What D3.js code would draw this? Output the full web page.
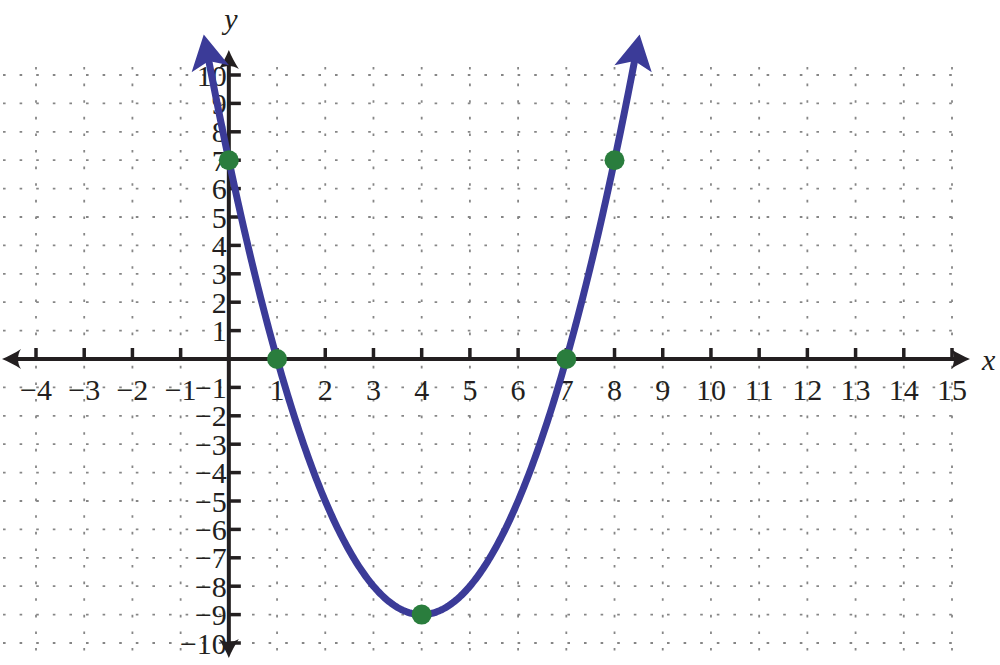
<!DOCTYPE html>
<html>
<head>
<meta charset="utf-8">
<script src="https://cdn.jsdelivr.net/npm/d3@7"></script>
<style>
  html, body { margin: 0; padding: 0; background: #fff; }
  svg { display: block; }
  text { font-family: "Liberation Serif", "DejaVu Serif", serif; fill: #231f20; }
</style>
</head>
<body>
<svg id="chart" width="1000" height="665"></svg>
<script>
// ---- data ----
const xTicks = [-4, -3, -2, -1, 1, 2, 3, 4, 5, 6, 7, 8, 9, 10, 11, 12, 13, 14, 15];
const yTicks = [-10, -9, -8, -7, -6, -5, -4, -3, -2, -1, 1, 2, 3, 4, 5, 6, 7, 8, 9, 10];
const gridX = [-4, -3, -2, -1, 0, 1, 2, 3, 4, 5, 6, 7, 8, 9, 10, 11, 12, 13, 14, 15];
const gridY = [-10, -9, -8, -7, -6, -5, -4, -3, -2, -1, 1, 2, 3, 4, 5, 6, 7, 8, 9, 10];
// parabola y = a x^2 + b x + c  (roots 1 and 7, vertex (4,-9))
const curveCoefficients = [1, -8, 7];
const curveDomain = [-0.52, 8.52];
const pointX = [0, 1, 4, 7, 8];
const pointY = [7, 0, -9, 0, 7];

// ---- layout ----
const svg = d3.select("#chart");
const x = d3.scaleLinear().domain([-4, 15]).range([36, 952]);
const y = d3.scaleLinear().domain([-10, 10]).range([643, 75]);
const fmt = v => (v < 0 ? "\u2212" + Math.abs(v) : String(v));
const gridColor = "#868686";
const axisColor = "#231f20";
const curveColor = "#3b3b98";
const pointColor = "#2a7d3d";

// ---- grid ----
const grid = svg.append("g");
grid.selectAll("line.h").data(gridY).enter().append("line")
  .attr("x1", 2).attr("x2", 958)
  .attr("y1", d => y(d)).attr("y2", d => y(d))
  .attr("stroke", gridColor).attr("stroke-width", 1.8)
  .attr("stroke-dasharray", "2.6,14").attr("stroke-dashoffset", -1);
grid.selectAll("line.v").data(gridX).enter().append("line")
  .attr("x1", d => x(d)).attr("x2", d => x(d))
  .attr("y1", 65).attr("y2", 655)
  .attr("stroke", gridColor).attr("stroke-width", 1.8)
  .attr("stroke-dasharray", "2.6,14").attr("stroke-dashoffset", -2);

// ---- axes ----
const x0 = x(0), y0 = y(0);
const axes = svg.append("g");
axes.append("line").attr("x1", 8).attr("x2", 962).attr("y1", y0).attr("y2", y0)
  .attr("stroke", axisColor).attr("stroke-width", 4);
axes.append("line").attr("x1", x0).attr("x2", x0).attr("y1", 58).attr("y2", 650)
  .attr("stroke", axisColor).attr("stroke-width", 4);

const axisHead = "M0,0 C-6,-2.5 -13,-6 -19,-10 C-15,-4 -15,4 -19,10 C-13,6 -6,2.5 0,0Z";
[[970, y0, 0], [2, y0, 180], [x0, 50, -90], [x0, 658, 90]].forEach(([tx, ty, a]) => {
  axes.append("path").attr("d", axisHead)
    .attr("transform", `translate(${tx},${ty}) rotate(${a})`)
    .attr("fill", axisColor);
});

// ticks
axes.selectAll("line.xt").data(xTicks).enter().append("line")
  .attr("x1", d => x(d)).attr("x2", d => x(d))
  .attr("y1", y0).attr("y2", y0 - 11)
  .attr("stroke", axisColor).attr("stroke-width", 3.5);
axes.selectAll("line.yt").data(yTicks).enter().append("line")
  .attr("x1", x0).attr("x2", x0 + 12)
  .attr("y1", d => y(d)).attr("y2", d => y(d))
  .attr("stroke", axisColor).attr("stroke-width", 3.5);

// tick labels
const labels = svg.append("g").attr("font-size", 30);
labels.selectAll("text.xl").data(xTicks).enter().append("text")
  .attr("x", d => x(d)).attr("y", y0 + 41)
  .attr("text-anchor", "middle")
  .text(fmt);
labels.selectAll("text.yl").data(yTicks).enter().append("text")
  .attr("x", x0 - 2).attr("y", d => y(d))
  .attr("dy", "0.35em")
  .attr("text-anchor", "end")
  .text(fmt);

// axis titles
svg.append("text").attr("x", 982).attr("y", 370)
  .attr("font-size", 30).attr("font-style", "italic").text("x");
svg.append("text").attr("x", 231).attr("y", 29)
  .attr("text-anchor", "middle")
  .attr("font-size", 30).attr("font-style", "italic").text("y");

// ---- curve ----
const f = t => curveCoefficients[0] * t * t + curveCoefficients[1] * t + curveCoefficients[2];
const px = t => [x(t), y(f(t))];

// find the parameter where the line should stop so the arrowhead covers the end
function backOff(tEnd, dir, dist) {
  const tip = px(tEnd);
  let t = tEnd;
  for (let i = 0; i < 2000; i++) {
    t -= dir * 0.0005;
    const p = px(t);
    if (Math.hypot(p[0] - tip[0], p[1] - tip[1]) >= dist) break;
  }
  return t;
}
const tStart = backOff(curveDomain[0], -1, 22);
const tEnd = backOff(curveDomain[1], 1, 22);
const n = 300;
const samples = d3.range(n + 1).map(i => tStart + (tEnd - tStart) * i / n);
const line = d3.line().x(t => x(t)).y(t => y(f(t)));
svg.append("path").attr("d", line(samples))
  .attr("fill", "none").attr("stroke", curveColor).attr("stroke-width", 7);

const curveHead = "M0,0 L-35,-19 L-27,0 L-35,19 Z";
[[curveDomain[0], tStart], [curveDomain[1], tEnd]].forEach(([tt, tb]) => {
  const tip = px(tt), back = px(tb);
  const ang = Math.atan2(tip[1] - back[1], tip[0] - back[0]) * 180 / Math.PI;
  svg.append("path").attr("d", curveHead)
    .attr("transform", `translate(${tip[0]},${tip[1]}) rotate(${ang})`)
    .attr("fill", curveColor);
});

// ---- points ----
svg.append("g").selectAll("circle").data(pointX).enter().append("circle")
  .attr("cx", d => x(d)).attr("cy", (d, i) => y(pointY[i]))
  .attr("r", 10).attr("fill", pointColor);
</script>
</body>
</html>
